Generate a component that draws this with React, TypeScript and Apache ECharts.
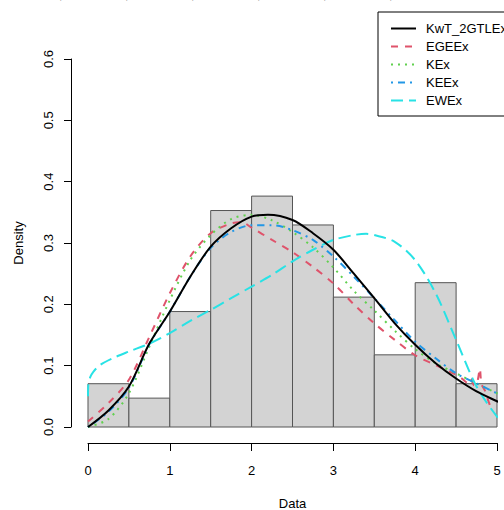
import React, { useEffect, useRef } from "react";
import * as echarts from "echarts";

// Histogram (bin edges and counts, n = 85)
const BIN_EDGES = [0, 0.5, 1, 1.5, 2, 2.5, 3, 3.5, 4, 4.5, 5];
const COUNTS = [3, 2, 8, 15, 16, 14, 9, 5, 10, 3];
const N_OBS = 85;

// Fitted density curves [x, density]
const KWT_2GTLEX = [
  [0, 0], [0.25, 0.027], [0.5, 0.066], [0.75, 0.136], [1, 0.188], [1.25, 0.245],
  [1.5, 0.294], [1.75, 0.324], [2, 0.343], [2.2, 0.346], [2.5, 0.3375], [2.75, 0.316],
  [3, 0.289], [3.25, 0.25], [3.5, 0.21], [3.75, 0.169], [4, 0.134], [4.25, 0.104],
  [4.5, 0.079], [4.75, 0.058], [5, 0.042], [5.1, 0.036],
];
const EGEEX = [
  [0, 0.009], [0.25, 0.039], [0.5, 0.077], [0.75, 0.147], [1, 0.218], [1.25, 0.278],
  [1.5, 0.316], [1.75, 0.332], [1.88, 0.334], [2, 0.325], [2.25, 0.305], [2.5, 0.285],
  [2.75, 0.261], [3, 0.234], [3.25, 0.2], [3.5, 0.169], [3.75, 0.142], [4, 0.117],
  [4.25, 0.101], [4.5, 0.085], [4.58, 0.078], [4.64, 0.072], [4.68, 0.079],
  [4.72, 0.068], [4.76, 0.074], [4.79, 0.095], [4.81, 0.07], [4.85, 0.06],
  [4.88, 0.048], [4.92, 0.033],
];
const KEX = [
  [0, 0], [0.25, 0.013], [0.5, 0.055], [0.75, 0.131], [1, 0.207], [1.25, 0.272],
  [1.5, 0.313], [1.75, 0.339], [2, 0.346], [2.25, 0.337], [2.5, 0.318], [2.75, 0.293],
  [3, 0.26], [3.25, 0.222], [3.5, 0.19], [3.75, 0.157], [4, 0.127], [4.25, 0.104],
  [4.5, 0.0875], [4.75, 0.071], [5, 0.055], [5.1, 0.05],
];
const KEEX = [
  [0, 0], [0.25, 0.025], [0.5, 0.064], [0.75, 0.135], [1, 0.188], [1.25, 0.245],
  [1.5, 0.292], [1.75, 0.318], [2, 0.329], [2.25, 0.329], [2.5, 0.321], [2.75, 0.305],
  [3, 0.278], [3.25, 0.245], [3.5, 0.21], [3.75, 0.174], [4, 0.139], [4.25, 0.112],
  [4.5, 0.0875], [4.75, 0.071], [5, 0.055], [5.1, 0.05],
];
const EWEX = [
  [0, 0.05], [0.005, 0.07], [0.03, 0.082], [0.065, 0.09], [0.146, 0.101], [0.3, 0.112],
  [0.5, 0.123], [0.75, 0.136], [1, 0.153], [1.25, 0.173], [1.5, 0.191], [1.75, 0.21],
  [2, 0.229], [2.25, 0.248], [2.5, 0.27], [2.75, 0.289], [3, 0.305], [3.25, 0.313],
  [3.4, 0.315], [3.5, 0.313], [3.75, 0.302], [4, 0.272], [4.25, 0.218], [4.5, 0.142],
  [4.75, 0.066], [5, 0.017], [5.1, 0.005],
];

// Bottom of a cut-off title line: only its commas' tails are visible
const TITLE_FRAGMENTS = [",", ",", ",", ",", ",", ","];

const FONT = "'Liberation Sans', Arial, sans-serif";

export default function App() {
  const ref = useRef<HTMLDivElement>(null);

  useEffect(() => {
    if (!ref.current) return;
    const chart = echarts.init(ref.current, null, { renderer: "svg" });

    const histData = COUNTS.map((c, i) => [
      BIN_EDGES[i],
      BIN_EDGES[i + 1],
      c / (N_OBS * (BIN_EDGES[i + 1] - BIN_EDGES[i])),
    ]);

    const lineSeries = (name: string, data: number[][], color: string, dash: any, width = 2) => ({
      name,
      type: "line",
      data,
      showSymbol: false,
      symbol: "none",
      smooth: 0.3,
      clip: false,
      z: 3,
      lineStyle: { color, width, type: dash, cap: "butt" },
      itemStyle: { color },
    });

    chart.setOption({
      animation: false,
      backgroundColor: "#ffffff",
      textStyle: { fontFamily: FONT },
      graphic: TITLE_FRAGMENTS.map((t, i) => ({
        type: "text",
        x: 59 + i * 66,
        y: -12,
        silent: true,
        style: { text: t, fontSize: 13, fontFamily: FONT, fill: "#555555" },
      })),
      legend: {
        orient: "vertical",
        left: 378,
        top: 12,
        data: ["KwT_2GTLEx", "EGEEx", "KEx", "KEEx", "EWEx"],
        selectedMode: false,
        borderColor: "#000",
        borderWidth: 1,
        borderRadius: 0,
        padding: [10, 30, 9, 12],
        itemWidth: 25,
        itemHeight: 12,
        itemGap: 5,
        itemStyle: { opacity: 0 },
        textStyle: { fontSize: 13, color: "#000", fontFamily: FONT, lineHeight: 12, padding: [0, 0, 0, 5] },
      },
      grid: { left: 88, right: 7, top: 59, bottom: 83, containLabel: false, outerBoundsMode: "none" },
      xAxis: {
        type: "value",
        min: 0,
        max: 5,
        interval: 1,
        offset: 16,
        name: "Data",
        nameLocation: "middle",
        nameGap: 54,
        nameTextStyle: { fontSize: 13, color: "#000", fontFamily: FONT },
        axisLine: { show: true, onZero: false, lineStyle: { color: "#000", width: 1 } },
        axisTick: { show: true, length: 8, lineStyle: { color: "#000" } },
        axisLabel: { fontSize: 13, color: "#000", margin: 21, fontFamily: FONT },
        splitLine: { show: false },
      },
      yAxis: {
        type: "value",
        min: 0,
        max: 0.6,
        interval: 0.1,
        offset: 17,
        name: "Density",
        nameLocation: "middle",
        nameGap: 46,
        nameRotate: 90,
        nameTextStyle: { fontSize: 13, color: "#000", fontFamily: FONT },
        axisLine: { show: true, onZero: false, lineStyle: { color: "#000", width: 1 } },
        axisTick: { show: true, length: 7, lineStyle: { color: "#000" } },
        axisLabel: {
          fontSize: 13,
          color: "#000",
          rotate: 90,
          margin: 16,
          fontFamily: FONT,
          formatter: (v: number) => v.toFixed(1),
        },
        splitLine: { show: false },
      },
      series: [
        {
          type: "custom",
          name: "hist",
          data: histData,
          z: 1,
          clip: false,
          renderItem: (params: any, api: any) => {
            const p0 = api.coord([api.value(0), api.value(2)]);
            const p1 = api.coord([api.value(1), 0]);
            return {
              type: "rect",
              shape: { x: p0[0], y: p0[1], width: p1[0] - p0[0], height: p1[1] - p0[1] },
              style: { fill: "#D3D3D3", stroke: "#555555", lineWidth: 1 },
            };
          },
        },
        lineSeries("EGEEx", EGEEX, "#DF536B", [7, 7]),
        lineSeries("KEx", KEX, "#61D04F", [2, 5]),
        lineSeries("KEEx", KEEX, "#2297E6", [2, 5, 7, 5]),
        lineSeries("EWEx", EWEX, "#28E2E5", [12, 6]),
        lineSeries("KwT_2GTLEx", KWT_2GTLEX, "#000000", "solid"),
      ],
    });

    return () => chart.dispose();
  }, []);

  return <div ref={ref} style={{ width: 504, height: 510, position: "absolute", left: 0, top: 0 }} />;
}
